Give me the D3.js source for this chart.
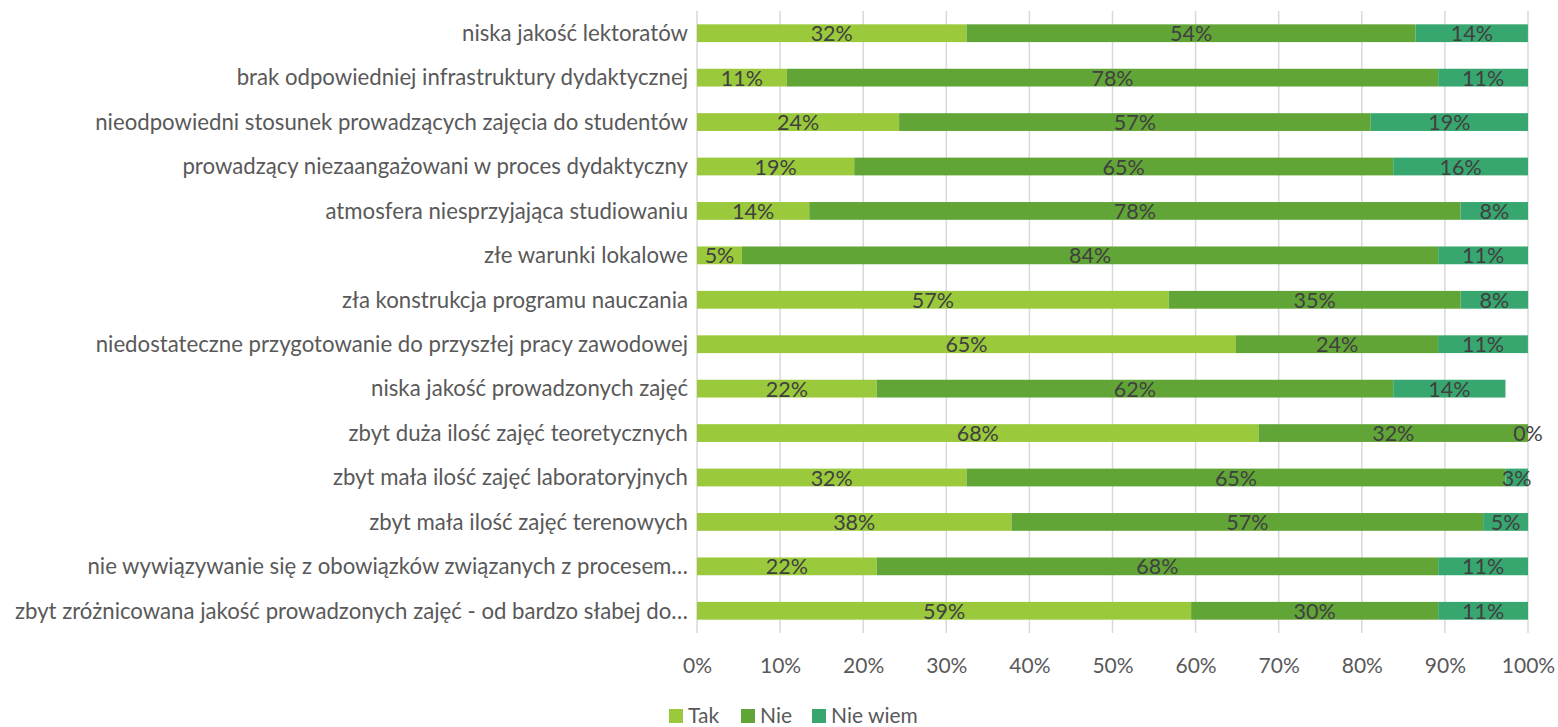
<!DOCTYPE html>
<html>
<head>
<meta charset="utf-8">
<script src="https://cdn.jsdelivr.net/npm/d3@7"></script>
<style>
  body { margin: 0; background: #fff; }
  svg text { font-family: Lato, "Open Sans", sans-serif; }
</style>
</head>
<body>
<div id="container"></div>
<script>
const categories = [
  "niska jakość lektoratów",
  "brak odpowiedniej infrastruktury dydaktycznej",
  "nieodpowiedni stosunek prowadzących zajęcia do studentów",
  "prowadzący niezaangażowani w proces dydaktyczny",
  "atmosfera niesprzyjająca studiowaniu",
  "złe warunki lokalowe",
  "zła konstrukcja programu nauczania",
  "niedostateczne przygotowanie do przyszłej pracy zawodowej",
  "niska jakość prowadzonych zajęć",
  "zbyt duża ilość zajęć teoretycznych",
  "zbyt mała ilość zajęć laboratoryjnych ",
  "zbyt mała ilość zajęć terenowych",
  "nie wywiązywanie się z obowiązków związanych z procesem…",
  "zbyt zróżnicowana jakość prowadzonych zajęć - od bardzo słabej do…"
]
const seriesNames = ["Tak", "Nie", "Nie wiem"]
const tak     = [32.43, 10.81, 24.32, 18.92, 13.51,  5.41, 56.76, 64.86, 21.62, 67.57, 32.43, 37.84, 21.62, 59.46]
const nie     = [54.05, 78.38, 56.76, 64.86, 78.38, 83.78, 35.14, 24.32, 62.16, 32.43, 64.86, 56.76, 67.57, 29.73]
const nieWiem = [13.51, 10.81, 18.92, 16.22,  8.11, 10.81,  8.11, 10.81, 13.51,  0.00,  2.70,  5.41, 10.81, 10.81]
const ticks = [0, 10, 20, 30, 40, 50, 60, 70, 80, 90, 100]
const colors = ["#9aca3c", "#62a537", "#37a76f"]

const width = 1558
const height = 727
const margin = {top: 11, bottom: 94, left: 697, right: 30}

const rows = categories.map((c, i) => ({cat: c, Tak: tak[i], Nie: nie[i], "Nie wiem": nieWiem[i]}))
const stacked = d3.stack().keys(seriesNames)(rows)

const x = d3.scaleLinear().domain([0, 100]).range([margin.left, width - margin.right])
const y = d3.scaleBand().domain(categories).range([margin.top, height - margin.bottom]).paddingInner(0.6).paddingOuter(0.3)

const svg = d3.create("svg").attr("width", width).attr("height", height)

// gridlines
svg.append("g")
  .selectAll("line")
  .data(ticks)
  .join("line")
  .attr("x1", d => x(d)).attr("x2", d => x(d))
  .attr("y1", margin.top).attr("y2", height - margin.bottom)
  .attr("stroke", "#d9d9d9").attr("stroke-width", 1.5)

// bars
const layer = svg.append("g")
  .selectAll("g")
  .data(stacked)
  .join("g")
  .attr("fill", (d, i) => colors[i])

layer.selectAll("rect")
  .data(d => d)
  .join("rect")
  .attr("x", d => x(d[0]))
  .attr("width", d => x(d[1]) - x(d[0]))
  .attr("y", d => y(d.data.cat))
  .attr("height", y.bandwidth())

// labels in segments
const labels = svg.append("g")
stacked.forEach(s => {
  labels.selectAll(null)
    .data(s)
    .join("text")
    .attr("x", d => x((d[0] + d[1]) / 2))
    .attr("y", d => y(d.data.cat) + y.bandwidth() / 2 + 8)
    .attr("text-anchor", "middle")
    .attr("font-size", 21.5)
    .attr("fill", "#404040")
    .text(d => Math.round(d[1] - d[0]) + "%")
})

// category axis
svg.append("g")
  .attr("transform", `translate(${margin.left - 9},0)`)
  .call(d3.axisLeft(y).tickSize(0).tickPadding(0))
  .call(g => g.select(".domain").remove())
  .call(g => g.selectAll("text")
    .attr("font-size", 22.2)
    .attr("fill", "#595959")
    .attr("dy", "0.35em"))

// x axis labels
svg.append("g")
  .attr("transform", `translate(0,${height - margin.bottom + 40})`)
  .call(d3.axisBottom(x).tickValues(ticks).tickFormat(d => d + "%").tickSize(0).tickPadding(0))
  .call(g => g.select(".domain").remove())
  .call(g => g.selectAll("text")
    .attr("font-size", 21)
    .attr("fill", "#595959")
    .attr("dy", "0"))

// legend
const legendItems = [
  {name: "Tak", x: 669},
  {name: "Nie", x: 741},
  {name: "Nie wiem", x: 812}
]
const legend = svg.append("g")
legendItems.forEach((d, i) => {
  legend.append("rect")
    .attr("x", d.x).attr("y", 709)
    .attr("width", 14).attr("height", 14)
    .attr("fill", colors[i])
  legend.append("text")
    .attr("x", d.x + 19).attr("y", 723)
    .attr("font-size", 21)
    .attr("fill", "#595959")
    .text(d.name)
})

document.querySelector("#container").appendChild(svg.node())
</script>
</body>
</html>
